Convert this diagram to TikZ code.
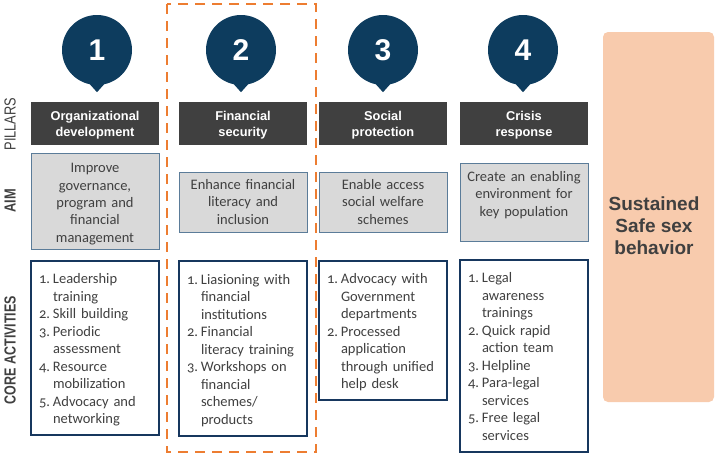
\documentclass[tikz,border=0pt]{standalone}
\usepackage{fontspec}
\usepackage{graphicx}
\usepackage{array}
\setmainfont{Carlito}[Numbers=OldStyle]
\newfontfamily\hd{Liberation Sans}
\usetikzlibrary{calc}
\definecolor{pinblue}{HTML}{0D3C5E}
\definecolor{pillarfill}{HTML}{404040}
\definecolor{aimfill}{HTML}{D9D9D9}
\definecolor{aimline}{HTML}{5B7C99}
\definecolor{coreline}{HTML}{17375E}
\definecolor{dashorange}{HTML}{ED7D31}
\definecolor{peach}{HTML}{F8CBAD}
\definecolor{txtgray}{HTML}{404040}
\newcommand{\actlist}[1]{\raisebox{-2pt}[\height][\depth]{\begin{tabular}{@{}p{14pt}@{}l@{}}#1\end{tabular}}}
\newcommand{\twoline}[2]{\raisebox{-1.5pt}[\height][\depth]{\begin{tabular}{@{}c@{}}#1\\#2\end{tabular}}}
\tikzset{
  pin/.style={circle, fill=pinblue, minimum size=70pt, inner sep=0pt, text=white, font=\hd\bfseries\fontsize{30}{30}\selectfont},
  pillar/.style={fill=pillarfill, minimum width=128pt, minimum height=43pt, inner sep=0pt, text=white, align=center, font=\hd\bfseries\fontsize{12.8}{16}\selectfont},
  aim/.style={fill=aimfill, draw=aimline, line width=0.8pt, minimum width=128pt, inner sep=0pt},
  aimtext/.style={inner sep=0pt, text width=124pt, align=center, text=txtgray, font=\fontsize{14.5}{17.3}\selectfont},
  core/.style={draw=coreline, line width=1.7pt, minimum width=128pt, inner sep=0pt, text width=112pt, align=left, text=txtgray, font=\fontsize{14.5}{17.5}\selectfont},
  side/.style={rotate=90, text=txtgray, inner sep=0pt}
}
\begin{document}
\begin{tikzpicture}[x=1pt,y=-1pt]
\useasboundingbox (0,0) rectangle (716,456);
% dashed highlight
\draw[dashorange, line width=2.6pt, dash pattern=on 10pt off 7pt] (167,4) rectangle (316,452);
% side labels
\node[side, font=\hd\fontsize{16}{16}\selectfont] (lp) at (10,124) {\scalebox{0.8}[1]{PILLARS}};
\node[side, font=\hd\bfseries\fontsize{16}{16}\selectfont] (la) at (10,201) {\scalebox{0.8}[1]{AIM}};
\node[side, font=\hd\bfseries\fontsize{16}{16}\selectfont] (lc) at (10,350) {\scalebox{0.78}[1]{CORE ACTIVITIES}};
% pins
\foreach \i/\x in {1/97,2/241,3/383,4/523}{
  \node[pin] (p\i) at (\x,50) {\i};
  \fill[pinblue] ([xshift=-9pt,yshift=3pt]p\i.south) -- ([xshift=9pt,yshift=3pt]p\i.south) -- ([yshift=-7pt]p\i.south) -- cycle;
}
% pillars
\node[pillar] (h1) at (95,123.5) {\twoline{Organizational}{development}};
\node[pillar] (h2) at (243,123.5) {\twoline{Financial}{security}};
\node[pillar] (h3) at (383,123.5) {\twoline{Social}{protection}};
\node[pillar] (h4) at (524,123.5) {\twoline{Crisis}{response}};
% aims
\node[aim, minimum height=96pt] (a1) at (95,201) {};
\node[aimtext] (a1t) at (a1) [yshift=-3pt] {Improve\\governance,\\program and\\financial\\management};
\node[aim, minimum height=60pt] (a2) at (243,202) {};
\node[aimtext] (a2t) at (a2) {Enhance financial\\literacy and\\inclusion};
\node[aim, minimum height=60pt] (a3) at (383,202) {};
\node[aimtext] (a3t) at (a3) {Enable access\\social welfare\\schemes};
\node[aim, minimum height=78pt] (a4) at (524,202) {};
\node[aimtext] (a4t) at (a4) [yshift=7pt] {Create an enabling\\environment for\\key population};
% core activities
\node[core, minimum height=174pt] (c1) at (95,348) {\actlist{1.&Leadership\\&training\\2.&Skill building\\3.&Periodic\\&assessment\\4.&Resource\\&mobilization\\5.&Advocacy and\\&networking}};
\node[core, minimum height=175pt] (c2) at (243,348.5) {\actlist{1.&Liasioning with\\&financial\\&institutions\\2.&Financial\\&literacy training\\3.&Workshops on\\&financial\\&schemes/\\&products}};
\node[core, minimum height=139pt] (c3) at (383,330.5) {\actlist{1.&Advocacy with\\&Government\\&departments\\2.&Processed\\&application\\&through unified\\&help desk}};
\node[core, minimum height=192pt] (c4) at (524,356) {\actlist{1.&Legal\\&awareness\\&trainings\\2.&Quick rapid\\&action team\\3.&Helpline\\4.&Para-legal\\&services\\5.&Free legal\\&services}};
% outcome
\node[fill=peach, rounded corners=5pt, minimum width=111pt, minimum height=370pt, inner sep=0pt] (o) at (658.5,217) {};
\node[text=txtgray, align=center, font=\hd\bfseries\fontsize{19}{22}\selectfont] (ot) at (654,226) {Sustained\\Safe sex\\behavior};
\end{tikzpicture}
\end{document}
